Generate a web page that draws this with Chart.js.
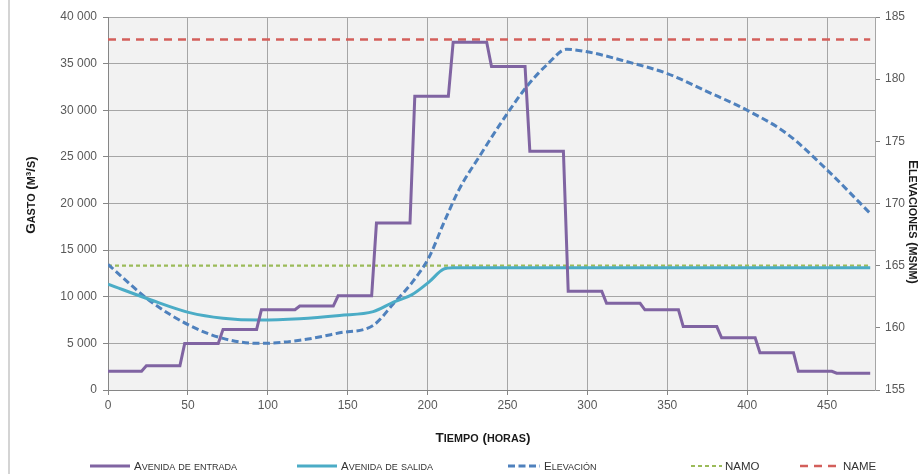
<!DOCTYPE html>
<html><head><meta charset="utf-8">
<script src="https://cdn.jsdelivr.net/npm/chart.js@4/dist/chart.umd.min.js"></script>
<style>html,body{margin:0;padding:0;background:#fff}#wrap{width:922px;height:474px;position:relative}</style>
</head><body><div id="wrap"><canvas id="c" width="922" height="474"></canvas></div>
<script>
// ---- data ----
const inflowHours  = [0,21,24,45,48,69,72,93,96,117,120,141,144,165,168,189,192,213,216,237,240,261,264,285,288,309,312,333,336,357,360,381,384,405,408,429,432,453,456,477];
const inflowValues = [2000,2000,2600,2600,5000,5000,6500,6500,8600,8600,9000,9000,10100,10100,17900,17900,31500,31500,37300,37300,34700,34700,25600,25600,10600,10600,9300,9300,8600,8600,6800,6800,5600,5600,4000,4000,2000,2000,1800,1800];
const outflowHours  = [0,27,51,72,95,120,145,166,179,190,201,210,216,240,300,400,477];
const outflowValues = [11350,9650,8300,7700,7500,7650,8000,8400,9450,10200,11600,12950,13100,13100,13100,13100,13100];
const elevHours  = [0,27,51,72,95,120,145,166,179,190,201,210,220,233,245,262,275,287,300,325,350,375,400,425,450,477];
const elevValues = [165.1,162.1,160.2,159.15,158.75,159.0,159.6,160.2,162.0,163.6,165.7,168.4,171.2,173.9,176.3,179.4,181.2,182.4,182.2,181.4,180.45,179.0,177.5,175.6,172.7,169.2];
const levelHours = [0,477];
const namoValues = [165,165];
const nameValues = [183.2,183.2];
const seriesLabels = ['Avenida de entrada','Avenida de salida','Elevación','NAMO','NAME'];
const xTitle = 'Tiempo (horas)';
const yTitle = 'Gasto (m³/s)';
const y1Title = 'Elevaciones (msnm)';

const pts = (xs, ys) => xs.map((x, i) => ({x, y: ys[i]}));
const FAM = "'Liberation Sans', Arial, sans-serif";

function runs(text){
  const out = [];
  for (const ch of text){
    const small = ch !== ch.toUpperCase();
    const t = ch.toUpperCase();
    if (out.length && out[out.length-1].small === small) out[out.length-1].t += t;
    else out.push({t, small});
  }
  return out;
}
function scWidth(ctx, text, big, small, weight){
  let w = 0;
  for (const r of runs(text)){
    ctx.font = weight + ' ' + (r.small ? small : big) + 'px ' + FAM;
    w += ctx.measureText(r.t).width;
  }
  return w;
}
function drawSC(ctx, text, x, y, big, small, weight, align, color){
  const w = scWidth(ctx, text, big, small, weight);
  let cx = align === 'center' ? x - w/2 : x;
  ctx.fillStyle = color;
  ctx.textBaseline = 'alphabetic';
  ctx.textAlign = 'left';
  for (const r of runs(text)){
    ctx.font = weight + ' ' + (r.small ? small : big) + 'px ' + FAM;
    ctx.fillText(r.t, cx, y);
    cx += ctx.measureText(r.t).width;
  }
}

const decor = {
  id: 'decor',
  beforeDraw(chart){
    const {ctx, chartArea: a} = chart;
    ctx.save();
    ctx.fillStyle = '#F2F2F2';
    ctx.fillRect(a.left, a.top, a.right - a.left, a.bottom - a.top);
    ctx.strokeStyle = '#D4D4D4';
    ctx.lineWidth = 2;
    ctx.beginPath(); ctx.moveTo(9, 0); ctx.lineTo(9, 474); ctx.stroke();
    ctx.restore();
  },
  afterDraw(chart){
    const {ctx} = chart;
    ctx.save();
    // axis titles
    drawSC(ctx, xTitle, 483, 442, 13.5, 10.8, 'bold', 'center', '#1a1a1a');
    ctx.save(); ctx.translate(35, 195); ctx.rotate(-Math.PI/2);
    drawSC(ctx, yTitle, 0, 0, 13.5, 10.8, 'bold', 'center', '#1a1a1a');
    ctx.restore();
    ctx.save(); ctx.translate(909, 222); ctx.rotate(Math.PI/2);
    drawSC(ctx, y1Title, 0, 0, 13.5, 10.8, 'bold', 'center', '#1a1a1a');
    ctx.restore();
    // legend
    const items = [[90,40,134],[297,40,341],[508,32,544],[691,31,725],[800,40,843]];
    const ly = 466;
    chart.data.datasets.forEach((ds, i) => {
      const [lx, len, tx] = items[i];
      ctx.strokeStyle = ds.borderColor;
      ctx.lineWidth = ds.borderWidth;
      ctx.setLineDash(ds.borderDash || []);
      ctx.beginPath(); ctx.moveTo(lx, ly); ctx.lineTo(lx + len, ly); ctx.stroke();
      ctx.setLineDash([]);
      drawSC(ctx, ds.label, tx, ly + 4, 11.5, 9, 'normal', 'left', '#333333');
    });
    ctx.restore();
  }
};

const tickFont = {family: FAM, size: 12};
new Chart(document.getElementById('c'), {
  type: 'line',
  data: {
    datasets: [
      {label: seriesLabels[0], data: pts(inflowHours, inflowValues), yAxisID: 'y', borderColor: '#8064A2', borderWidth: 3, tension: 0},
      {label: seriesLabels[1], data: pts(outflowHours, outflowValues), yAxisID: 'y', borderColor: '#4BACC6', borderWidth: 3, cubicInterpolationMode: 'monotone'},
      {label: seriesLabels[2], data: pts(elevHours, elevValues), yAxisID: 'y1', borderColor: '#4F81BD', borderWidth: 3, borderDash: [7, 3.5], cubicInterpolationMode: 'monotone'},
      {label: seriesLabels[3], data: pts(levelHours, namoValues), yAxisID: 'y1', borderColor: '#9BBB59', borderWidth: 2.2, borderDash: [4, 3]},
      {label: seriesLabels[4], data: pts(levelHours, nameValues), yAxisID: 'y1', borderColor: '#D35F5B', borderWidth: 2.5, borderDash: [8, 6]}
    ]
  },
  options: {
    responsive: false,
    animation: false,
    layout: {padding: {top: 17, left: 0, right: 0, bottom: 0}},
    elements: {point: {radius: 0}, line: {borderCapStyle: 'butt'}},
    plugins: {legend: {display: false}, tooltip: {enabled: false}},
    scales: {
      x: {
        type: 'linear', min: 0, max: 480,
        ticks: {stepSize: 50, color: '#595959', font: tickFont, padding: 3, maxRotation: 0},
        afterBuildTicks: s => { s.ticks = s.ticks.filter(t => t.value <= 450); },
        afterFit: s => { s.height = 84; },
        grid: {color: '#A6A6A6', tickColor: '#868686', tickLength: 5},
        border: {color: '#868686', width: 1}
      },
      y: {
        position: 'left', min: 0, max: 40000,
        ticks: {stepSize: 5000, color: '#595959', font: tickFont, padding: 6,
          callback: v => String(v).replace(/\B(?=(\d{3})+(?!\d))/g, ' ')},
        afterFit: s => { s.width = 108; },
        grid: {color: '#A6A6A6', tickColor: '#868686', tickLength: 5},
        border: {color: '#868686', width: 1}
      },
      y1: {
        position: 'right', min: 155, max: 185,
        ticks: {stepSize: 5, color: '#595959', font: tickFont, padding: 5},
        afterFit: s => { s.width = 47; },
        grid: {drawOnChartArea: false, tickColor: '#868686', tickLength: 5},
        border: {color: '#A6A6A6', width: 1}
      }
    }
  },
  plugins: [decor]
});
</script>
</body></html>
